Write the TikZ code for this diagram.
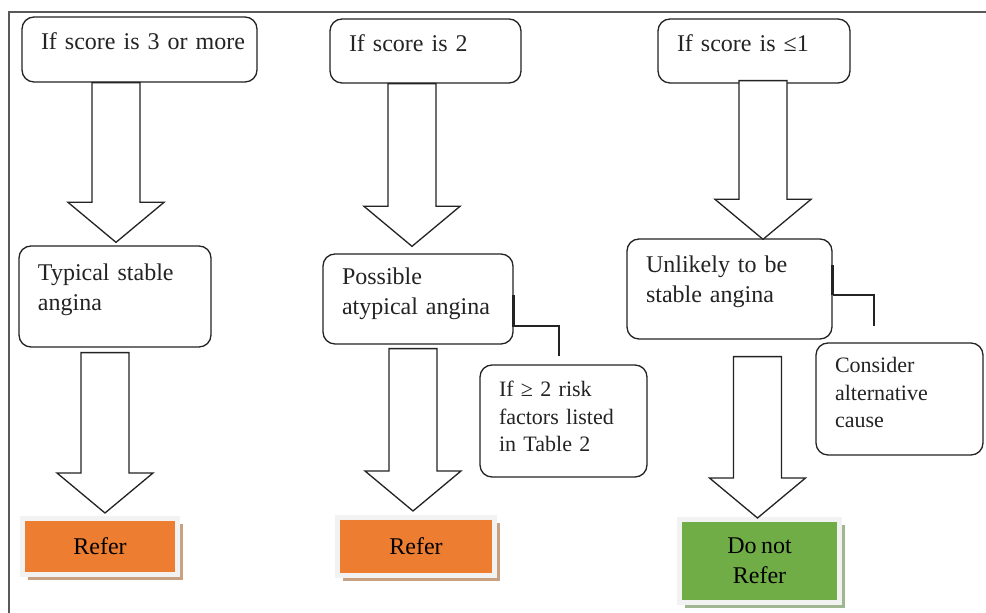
\documentclass[tikz,border=0pt]{standalone}
\usepackage{fontspec}
\setmainfont{Liberation Serif}[WordSpace=0.75]
\usetikzlibrary{calc,shadows}
\definecolor{referor}{RGB}{237,125,49}
\definecolor{keepgr}{RGB}{112,173,71}
\definecolor{shadeor}{RGB}{200,160,130}
\definecolor{shadegr}{RGB}{160,182,145}
\definecolor{rim}{RGB}{242,242,242}
\definecolor{ink}{RGB}{35,35,35}
\newcommand\flowfont{\fontsize{12}{14.75}\selectfont}
\newcommand\sidefont{\fontsize{11}{13.6}\selectfont}
% hollow block arrow: axis x, from node, to node, top gap, tip gap (px)
\newcommand\fatarrow[5]{%
  \coordinate (ax) at (#1,0);
  \draw[hollow] ($(ax |- #2.south)+(-24,#4)$)
    -- ($(ax |- #3.north)+(-24,{-40-(#5)})$) -- ($(ax |- #3.north)+(-48,{-40-(#5)})$)
    -- ($(ax |- #3.north)+(0,{-(#5)})$)
    -- ($(ax |- #3.north)+(48,{-40-(#5)})$) -- ($(ax |- #3.north)+(24,{-40-(#5)})$)
    -- ($(ax |- #2.south)+(24,#4)$) -- cycle;}
\tikzset{
  cond box/.style={draw=ink,line width=0.65pt,fill=white,rounded corners=6pt,
    align=left,inner xsep=9.5pt,inner ysep=0pt,font=\flowfont,text=ink},
  note box/.style={cond box,font=\sidefont},
  refer box/.style 2 args={fill=#1,draw=rim,line width=2.5pt,align=center,
    font=\flowfont,text=black,inner sep=0pt,
    drop shadow={shadow xshift=2.5pt,shadow yshift=-3pt,fill=#2,opacity=1}},
  hollow/.style={draw=ink,line width=0.65pt,fill=white,line join=miter},
  link/.style={draw=ink,line width=0.6pt},
}
\begin{document}
\begin{tikzpicture}[x=0.5pt,y=-0.5pt]
  \useasboundingbox (0,0) rectangle (986,613);
  \draw[black!65,line width=0.6pt] (986,12) -- (9,12) -- (9,613);

  % scores
  \node[cond box,text width=98.5pt,text height=16.5pt,text depth=16pt] (q1) at (139.5,49.5) {\mbox{If score is 3 or more}};
  \node[cond box,text width=76.5pt,text height=16.5pt,text depth=15.5pt] (q2) at (425.5,51) {If score is 2};
  \node[cond box,text width=77pt,text height=16.5pt,text depth=15.5pt] (q3) at (754,51) {If score is ≤1};

  % diagnoses
  \node[cond box,text width=77pt,text height=17.5pt,text depth=33pt] (d1) at (115,296.5) {Typical stable\\angina};
  \node[cond box,text width=76pt,text height=15.5pt,text depth=29.5pt] (d2) at (418,299) {Possible\\atypical angina};
  \node[cond box,text width=83.5pt,text height=17pt,text depth=33pt] (d3) at (729.5,289) {Unlikely to be\\stable angina};

  % side notes
  \node[note box,text width=64.5pt,text height=16pt,text depth=40pt] (n2) at (563.5,421) {If ≥ 2 risk\\factors listed\\in Table 2};
  \node[note box,text width=64.5pt,text height=15pt,text depth=41pt] (n3) at (899.5,399) {Consider\\alternative\\cause};

  % outcomes
  \node[refer box={referor}{shadeor},minimum width=77.5pt,minimum height=28pt] (r1) at (100,546.5) {Refer};
  \node[refer box={referor}{shadeor},minimum width=78.5pt,minimum height=29pt] (r2) at (416,546.5) {Refer};
  \node[refer box={keepgr}{shadegr},minimum width=80pt,minimum height=41.5pt] (r3) at (759.5,561) {Do not\\Refer};

  \foreach \ax/\from/\to/\gt/\gb in {116/q1/d1/0/3, 105/d1/r1/5/3, 412/q2/d2/0/7,
      413/d2/r2/4/4, 763/q3/d3/-3/-1, 757.5/d3/r3/17/-1}
    \fatarrow{\ax}{\from}{\to}{\gt}{\gb};

  \draw[link,line width=1.3pt] ($(d2.east)+(0,-4)$) -- ($(d2.east)+(0,28)$);
  \draw[link] ($(d2.east)+(0,27)$) -| ($(n2.north)+(-4.5,-8)$);
  \draw[link,line width=1.3pt] ($(d3.east)+(0,-24)$) -- ($(d3.east)+(0,6)$);
  \draw[link] ($(d3.east)+(0,6)$) -| ($(n3.north)+(-25.5,-16)$);
\end{tikzpicture}
\end{document}
